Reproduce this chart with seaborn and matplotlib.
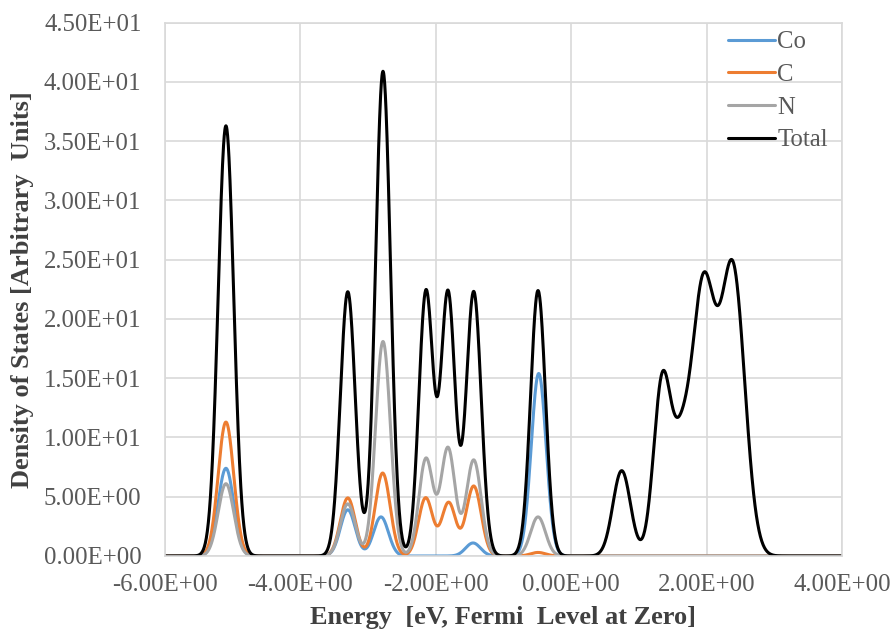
import numpy as np
import pandas as pd
import seaborn as sns
import matplotlib.pyplot as plt
from matplotlib.ticker import FuncFormatter

# Peak positions (eV), heights and broadening
co_centers = [-5.10, -3.30, -2.81, -1.45, -0.48]
co_heights = [7.4, 3.9, 3.3, 1.1, 15.4]
co_widths = [0.115, 0.11, 0.11, 0.11, 0.11]

c_centers = [-5.10, -3.30, -2.785, -2.15, -1.81, -1.44, -0.49]
c_heights = [11.3, 4.9, 7.0, 4.9, 4.5, 5.9, 0.3]
c_widths = [0.115, 0.11, 0.11, 0.105, 0.105, 0.11, 0.11]

n_centers = [-5.10, -3.30, -2.78, -2.145, -1.82, -1.44, -0.49]
n_heights = [6.1, 4.4, 18.1, 8.2, 9.1, 8.1, 3.3]
n_widths = [0.115, 0.11, 0.11, 0.105, 0.105, 0.11, 0.11]

tot_centers = [-5.10, -3.30, -2.78, -2.145, -1.82, -1.44, -0.49, 0.746, 1.35, 1.62, 1.95, 2.39]
tot_heights = [36.3, 22.3, 40.9, 22.3, 22.2, 22.3, 22.4, 7.2, 15.0, 6.5, 22.7, 23.9]
tot_widths = [0.115, 0.11, 0.11, 0.105, 0.105, 0.11, 0.11, 0.13, 0.13, 0.12, 0.175, 0.175]

species = ['Co', 'C', 'N', 'Total']
colors = {'Co': '#5B9BD5', 'C': '#ED7D31', 'N': '#A5A5A5', 'Total': '#000000'}


def broaden(energy, centers, heights, widths):
    dos = np.zeros_like(energy)
    for c, h, w in zip(centers, heights, widths):
        dos += h * np.exp(-(energy - c) ** 2 / (2 * w ** 2))
    return dos


energy = np.linspace(-6, 4, 2001)
peaks = {
    'Co': (co_centers, co_heights, co_widths),
    'C': (c_centers, c_heights, c_widths),
    'N': (n_centers, n_heights, n_widths),
    'Total': (tot_centers, tot_heights, tot_widths),
}
frames = []
for name in species:
    frames.append(pd.DataFrame({'Energy': energy,
                                'DOS': broaden(energy, *peaks[name]),
                                'species': name}))
df = pd.concat(frames, ignore_index=True)

sns.set_theme(style='white')
plt.rcParams['font.family'] = ['Liberation Serif', 'DejaVu Serif']

fig = plt.figure(figsize=(8.94, 6.37), dpi=100)
ax = fig.add_axes([165 / 894, 1 - 556 / 637, 677 / 894, 533.3 / 637])

sns.lineplot(data=df, x='Energy', y='DOS', hue='species', hue_order=species,
             palette=colors, sort=False, estimator=None, linewidth=2.2, ax=ax)

ax.set_xlim(-6, 4)
ax.set_ylim(0, 45)
ax.set_xticks(np.arange(-6, 4.1, 2))
ax.set_yticks(np.arange(0, 45.1, 5))
fmt = FuncFormatter(lambda v, pos: format(v, '.2E'))
ax.xaxis.set_major_formatter(fmt)
ax.yaxis.set_major_formatter(fmt)
ax.tick_params(axis='both', length=0, labelsize=17.8, labelcolor='#595959')
ax.tick_params(axis='y', pad=17)
ax.tick_params(axis='x', pad=13)
ax.grid(True, color='#D9D9D9', linewidth=1.2)
for s in ax.spines.values():
    s.set_color('#D9D9D9')
    s.set_linewidth(1.2)

ax.set_xlabel('Energy  [eV, Fermi  Level at Zero]', fontsize=19, fontweight='bold', color='#404040')
ax.set_ylabel('Density of States [Arbitrary  Units]', fontsize=19, fontweight='bold', color='#404040')
ax.xaxis.set_label_coords(0.5, -0.094)
ax.yaxis.set_label_coords(-0.194, 0.5)

handles, labels = ax.get_legend_handles_labels()
ax.legend(handles, labels, loc='upper left', bbox_to_anchor=(728 / 894, 1 - 31 / 637),
          bbox_transform=fig.transFigure, frameon=False, fontsize=17.8,
          handlelength=1.9, handletextpad=0.1, labelspacing=0.42,
          borderpad=0, borderaxespad=0, labelcolor='#595959')

fig.savefig('out.png', dpi=100)
